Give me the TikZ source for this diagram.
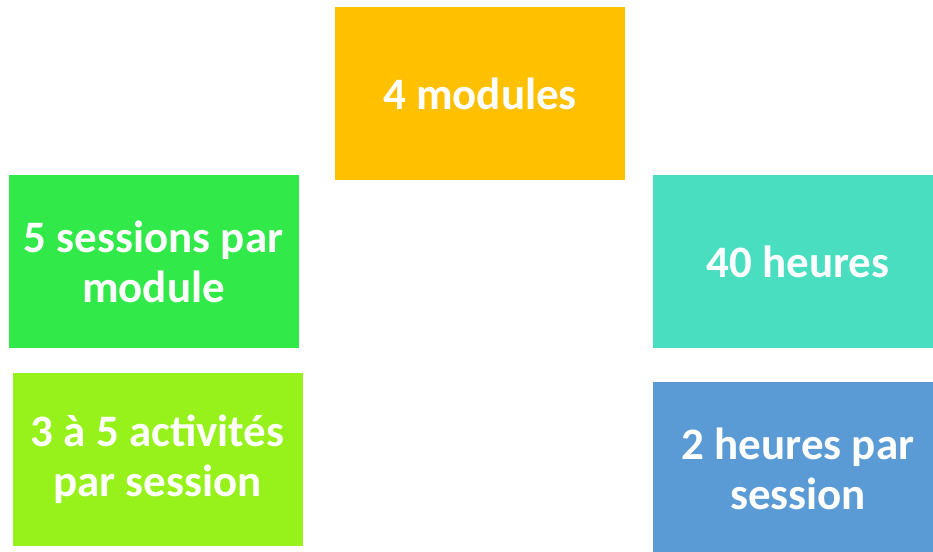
\documentclass[tikz,border=0pt]{standalone}
\usepackage{fontspec}
\setmainfont{Carlito}
\definecolor{cOrange}{RGB}{255,192,0}
\definecolor{cGreen}{RGB}{50,233,74}
\definecolor{cTeal}{RGB}{73,222,192}
\definecolor{cLime}{RGB}{150,242,26}
\definecolor{cBlue}{RGB}{91,155,213}
\tikzset{
  tile/.style={rectangle, inner sep=0pt, minimum width=290pt, minimum height=173pt,
    text=white, align=center, font=\bfseries\fontsize{45}{50}\selectfont}
}
\begin{document}
\begin{tikzpicture}[x=1pt,y=-1pt]
\useasboundingbox (0,0) rectangle (933,551);
\clip (0,0) rectangle (933,551);
\fill[white] (0,0) rectangle (933,551);
\node[tile, fill=cOrange] (mod) at (480,93.5) {4 modules};
\node[tile, fill=cGreen] (ses) at (153.5,261.5) {5 sessions par\\module};
\node[tile, fill=cTeal] (hrs) at (798,261.5) {40 heures};
\node[tile, fill=cLime] (act) at (157.5,459.5) {3 à 5 activités\\par session};
\node[tile, fill=cBlue] (hps) at (798,468.5) {2 heures par\\session};
\end{tikzpicture}
\end{document}
